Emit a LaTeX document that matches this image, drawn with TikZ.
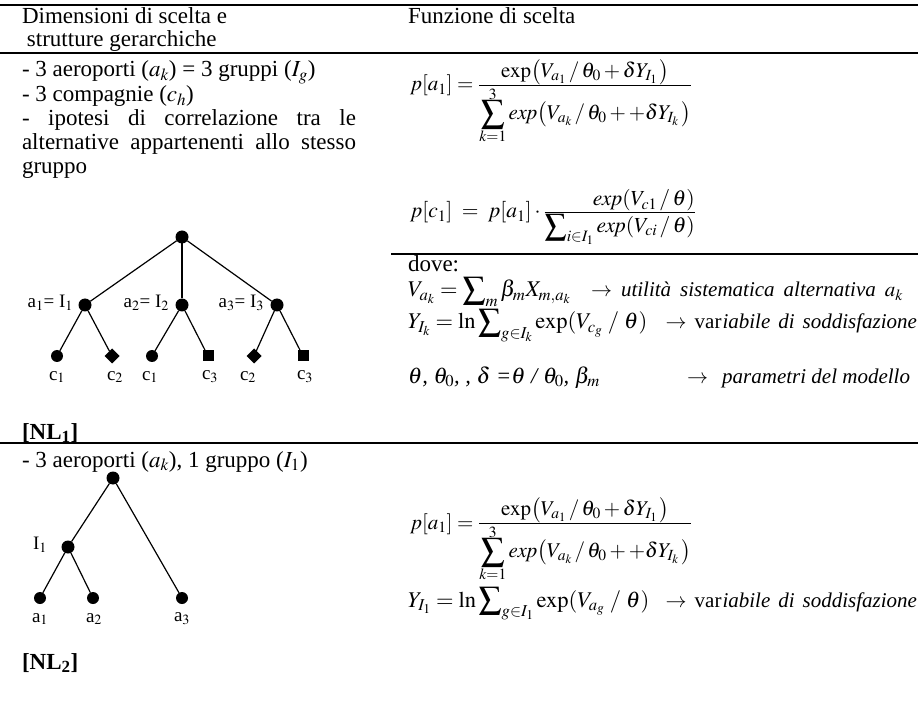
\documentclass[tikz,border=0pt]{standalone}
\usepackage{mathptmx}
\usepackage[no-math]{fontspec}
\setmainfont{Liberation Serif}
\usetikzlibrary{shapes.geometric}
\newcommand{\sumKone}{\mathop{\vcenter{\offinterlineskip\halign{\hfil##\hfil\cr\noalign{\kern2.5pt}$\scriptstyle 3$\cr\noalign{\kern0.5pt}\scalebox{1.6}{$\textstyle\sum$}\cr\noalign{\kern1pt}$\scriptstyle k=1$\cr}}}}
\newcommand{\pAoneFormula}{$p[a_1]={\textstyle\frac{\raisebox{5pt}{$\displaystyle\exp\bigl(V_{a_1}\,/\,\theta_0+\delta Y_{I_1}\,\bigr)$}}{\displaystyle\sumKone\mathit{exp}\bigl(V_{a_k}\,/\,\theta_0++\delta Y_{I_k}\,\bigr)}}$}
\begin{document}
\begin{tikzpicture}[x=1pt,y=-1pt,
  every node/.style={inner sep=0pt,outer sep=0pt},
  txt/.style={anchor=base west,font=\fontsize{23}{24}\selectfont},
  mtxt/.style={anchor=base west,font=\fontsize{22.5}{24}\selectfont},
  ftxt/.style={anchor=base west,font=\fontsize{21}{22}\selectfont},
  desc/.style={anchor=base east,font=\fontsize{21}{22}\selectfont},
  lbl/.style={font=\fontsize{19}{20}\selectfont},
  rulestyle/.style={line width=2.2pt},
  edge/.style={line width=1.2pt},
  bigdot/.style={circle,fill,minimum size=13pt},
  leafdot/.style={circle,fill,minimum size=12pt},
  dia/.style={diamond,fill,minimum size=15pt},
  sq/.style={rectangle,fill,minimum size=11pt},
]
\useasboundingbox (0,0) rectangle (918,708);
% rules
\draw[rulestyle] (0,5) -- (918,5);
\draw[rulestyle] (0,53) -- (918,53);
\draw[rulestyle] (391,254) -- (918,254);
\draw[rulestyle] (0,443) -- (918,443);
% header
\node[txt] (h1) at (22,24) {Dimensioni di scelta e};
\node[txt] (h2) at (22,47) {\hspace{5pt}strutture gerarchiche};
\node[txt] (h3) at (408,24) {Funzione di scelta};
% left text NL1
\node[txt] (t1) at (22,77) {- 3 aeroporti ($a_k$) = 3 gruppi ($I_g$)};
\node[txt] (t2) at (22,102) {- 3 compagnie ($c_h$)};
\node[txt] (t3) at (22,126) {\makebox[334pt][s]{- ipotesi di correlazione tra le}};
\node[txt] (t4) at (22,150) {\makebox[334pt][s]{alternative appartenenti allo stesso}};
\node[txt] (t5) at (22,174) {gruppo};
% tree 1
\node[bigdot] (r1) at (182,237) {};
\node[bigdot] (m1) at (85,305) {};
\node[bigdot] (m2) at (182,305) {};
\node[bigdot] (m3) at (277,305) {};
\node[leafdot] (l1) at (57,356) {};
\node[dia] (l2) at (112,356) {};
\node[leafdot] (l3) at (152,356) {};
\node[sq] (l4) at (208,356) {};
\node[dia] (l5) at (254,356) {};
\node[sq] (l6) at (303,356) {};
\draw[edge] (r1) -- (m1);
\draw[edge] (r1) -- (m2);
\draw[edge] (r1) -- (m3);
\draw[edge] (m1) -- (l1);
\draw[edge] (m1) -- (l2);
\draw[edge] (m2) -- (l3);
\draw[edge] (m2) -- (l4);
\draw[edge] (m3) -- (l5);
\draw[edge] (m3) -- (l6);
\node[lbl,anchor=east] (ma1) at (73,303) {a$_1$= I$_1$};
\node[lbl,anchor=east] (ma2) at (169,303) {a$_2$= I$_2$};
\node[lbl,anchor=east] (ma3) at (264,303) {a$_3$= I$_3$};
\node[lbl] (lc1) at (57,377) {c$_1$};
\node[lbl] (lc2) at (115,377) {c$_2$};
\node[lbl] (lc3) at (150,377) {c$_1$};
\node[lbl] (lc4) at (210,377) {c$_3$};
\node[lbl] (lc5) at (248,377) {c$_2$};
\node[lbl] (lc6) at (305,377) {c$_3$};
\node[txt,font=\fontsize{23}{24}\selectfont\bfseries] (nl1) at (22,439) {[NL\textsubscript{1}]};
% right column NL1
\node[ftxt] (f1) at (410,91) {\pAoneFormula};
\node[mtxt,font=\fontsize{21.5}{23}\selectfont] (f2) at (410,218) {$p[c_1]\;=\;p[a_1]\cdot{\textstyle\frac{\displaystyle\hspace{48pt}\mathit{exp}(V_{c1}\,/\,\theta)}{\displaystyle\sum\nolimits_{i\in I_1}\mathit{exp}(V_{ci}\,/\,\theta)}}$};
\node[txt] (dove) at (408,272) {dove:};
\node[mtxt] (vdef) at (408,297) {$V_{a_k}=\displaystyle\sum\nolimits_m\beta_m X_{m,a_k}$};
\node[desc] (vdesc) at (903,297) {$\rightarrow$\hspace{9pt}\textit{utilità}\hspace{9pt}\textit{sistematica}\hspace{9pt}\textit{alternativa}\hspace{9pt}$a_k$};
\node[mtxt] (ydef) at (408,329) {$Y_{I_k}=\ln\displaystyle\sum\nolimits_{g\in I_k}\exp(V_{c_g}\;/\;\theta)$};
\node[desc] (ydesc) at (917,329) {$\rightarrow$\hspace{8pt}var\hspace{1pt}\textit{iabile}\hspace{8pt}\textit{di}\hspace{8pt}\textit{soddisfazione}};
\node[mtxt] (par) at (408,383) {\textit{$\theta$, $\theta_0$, , $\delta$ =$\theta$ / $\theta_0$, $\beta_m$}};
\node[desc] (pardesc) at (910,383) {$\rightarrow$\hspace{14pt}\textit{parametri del modello}};
% NL2 left
\node[txt] (t6) at (22,467) {- 3 aeroporti ($a_k$), 1 gruppo ($I_1$)};
\node[bigdot] (r2) at (113,478) {};
\node[bigdot] (i1) at (68,547) {};
\node[leafdot] (n1) at (40,598) {};
\node[leafdot] (n2) at (93,598) {};
\node[leafdot] (n3) at (182,598) {};
\draw[edge] (r2) -- (i1);
\draw[edge] (r2) -- (n3);
\draw[edge] (i1) -- (n1);
\draw[edge] (i1) -- (n2);
\node[lbl,anchor=east] (li1) at (47,545) {I$_1$};
\node[lbl] (la1) at (40,619) {a$_1$};
\node[lbl] (la2) at (94,619) {a$_2$};
\node[lbl] (la3) at (182,619) {a$_3$};
\node[txt,font=\fontsize{23}{24}\selectfont\bfseries] (nl2) at (22,669) {[NL\textsubscript{2}]};
% NL2 right
\node[ftxt] (f3) at (410,529) {\pAoneFormula};
\node[mtxt] (y2def) at (408,607) {$Y_{I_1}=\ln\displaystyle\sum\nolimits_{g\in I_1}\exp(V_{a_g}\;/\;\theta)$};
\node[desc] (y2desc) at (917,607) {$\rightarrow$\hspace{8pt}var\hspace{1pt}\textit{iabile}\hspace{8pt}\textit{di}\hspace{8pt}\textit{soddisfazione}};
\end{tikzpicture}
\end{document}
